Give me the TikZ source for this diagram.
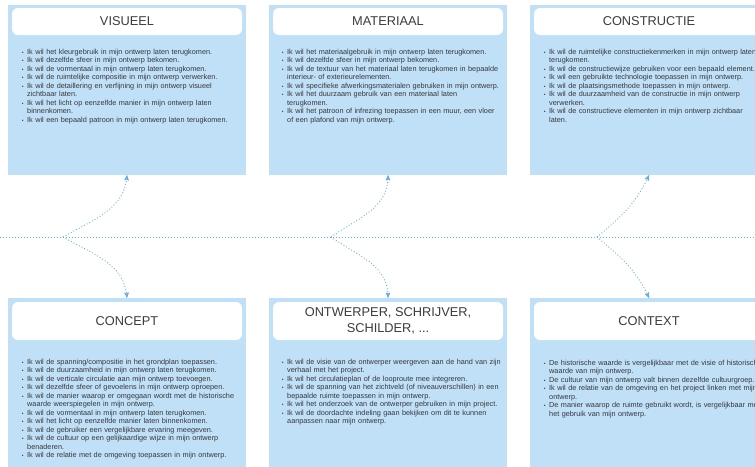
\documentclass[tikz,border=0pt]{standalone}
\usepackage{fontspec}
\setmainfont{Liberation Sans}
\usepackage{enumitem}
\usetikzlibrary{arrows, positioning}
\definecolor{panelblue}{RGB}{192,224,248}
\definecolor{linkblue}{RGB}{96,174,230}
\definecolor{textgray}{RGB}{55,55,55}
\definecolor{titlegray}{RGB}{60,60,60}
\newcommand{\bulletlist}[1]{\begin{itemize}[leftmargin=9pt, labelsep=3.5pt, nosep, label={\fontsize{5}{5}\selectfont\textbullet}]#1\end{itemize}}
\tikzset{
x=1pt, y=-1pt, % one unit is one pixel of the reference, y points down
>=stealth',
panel/.style={fill=panelblue, minimum width=238pt, inner sep=0pt}, % light blue column
titlebox/.style={fill=white, rounded corners=6pt, minimum width=230pt, inner sep=0pt, align=center, text=titlegray, font=\fontsize{12.8}{15.5}\selectfont},
itemtext/.style={anchor=north west, inner sep=0pt, text width=300pt, text=textgray, font=\fontsize{7.3}{8.5}\selectfont},
spine/.style={linkblue, line width=0.9pt, dash pattern=on 0.9pt off 2.1pt},
link/.style={->, spine},
}

\begin{document}
\begin{tikzpicture}
\useasboundingbox (0,0) rectangle (755,466);
\clip (0,0) rectangle (755,466);

% top row
\node[panel, minimum height=170pt] at (127, 90) (vis) {};
\node[panel, minimum height=170pt] at (388, 90) (mat) {};
\node[panel, minimum height=170pt] at (649, 90) (con) {};
\node[titlebox, minimum height=27pt] at (127, 21.5) (visT) {VISUEEL};
\node[titlebox, minimum height=27pt] at (388, 21.5) (matT) {MATERIAAL};
\node[titlebox, minimum height=27pt] at (649, 21.5) (conT) {CONSTRUCTIE};

\node[itemtext] at (18, 45.5) (visL) {\bulletlist{
\item Ik wil het kleurgebruik in mijn ontwerp laten terugkomen.
\item Ik wil dezelfde sfeer in mijn ontwerp bekomen.
\item Ik wil de vormentaal in mijn ontwerp laten terugkomen.
\item Ik wil de ruimtelijke compositie in mijn ontwerp verwerken.
\item Ik wil de detaillering en verfijning in mijn ontwerp visueel\newline zichtbaar laten.
\item Ik wil het licht op eenzelfde manier in mijn ontwerp laten\newline binnenkomen.
\item Ik wil een bepaald patroon in mijn ontwerp laten terugkomen.}};
\node[itemtext] at (278, 45.5) (matL) {\bulletlist{
\item Ik wil het materiaalgebruik in mijn ontwerp laten terugkomen.
\item Ik wil dezelfde sfeer in mijn ontwerp bekomen.
\item Ik wil de textuur van het materiaal laten terugkomen in bepaalde\newline interieur- of exterieurelementen.
\item Ik wil specifieke afwerkingsmaterialen gebruiken in mijn ontwerp.
\item Ik wil het duurzaam gebruik van een materiaal laten\newline terugkomen.
\item Ik wil het patroon of infrezing toepassen in een muur, een vloer\newline of een plafond van mijn ontwerp.}};
\node[itemtext] at (540, 45.5) (conL) {\bulletlist{
\item Ik wil de ruimtelijke constructiekenmerken in mijn ontwerp laten\newline terugkomen.
\item Ik wil de constructiewijze gebruiken voor een bepaald element.
\item Ik wil een gebruikte technologie toepassen in mijn ontwerp.
\item Ik wil de plaatsingsmethode toepassen in mijn ontwerp.
\item Ik wil de duurzaamheid van de constructie in mijn ontwerp\newline verwerken.
\item Ik wil de constructieve elementen in mijn ontwerp zichtbaar\newline laten.}};

% bottom row
\node[panel, minimum height=180pt] at (127, 388) (cpt) {};
\node[panel, minimum height=180pt] at (388, 388) (ont) {};
\node[panel, minimum height=180pt] at (649, 388) (ctx) {};
\node[titlebox, minimum height=38pt] at (127, 321) (cptT) {CONCEPT};
\node[titlebox, minimum height=38pt] at (388, 321) (ontT) {ONTWERPER, SCHRIJVER,\\SCHILDER, ...};
\node[titlebox, minimum height=38pt] at (649, 321) (ctxT) {CONTEXT};

\node[itemtext] at (18, 355.5) (cptL) {\bulletlist{
\item Ik wil de spanning/compositie in het grondplan toepassen.
\item Ik wil de duurzaamheid in mijn ontwerp laten terugkomen.
\item Ik wil de verticale circulatie aan mijn ontwerp toevoegen.
\item Ik wil dezelfde sfeer of gevoelens in mijn ontwerp oproepen.
\item Ik wil de manier waarop er omgegaan wordt met de historische\newline waarde weerspiegelen in mijn ontwerp.
\item Ik wil de vormentaal in mijn ontwerp laten terugkomen.
\item Ik wil het licht op eenzelfde manier laten binnenkomen.
\item Ik wil de gebruiker een vergelijkbare ervaring meegeven.
\item Ik wil de cultuur op een gelijkaardige wijze in mijn ontwerp\newline benaderen.
\item Ik wil de relatie met de omgeving toepassen in mijn ontwerp.}};
\node[itemtext] at (278, 355.5) (ontL) {\bulletlist{
\item Ik wil de visie van de ontwerper weergeven aan de hand van zijn\newline verhaal met het project.
\item Ik wil het circulatieplan of de looproute mee integreren.
\item Ik wil de spanning van het zichtveld (of niveauverschillen) in een\newline bepaalde ruimte toepassen in mijn ontwerp.
\item Ik wil het onderzoek van de ontwerper gebruiken in mijn project.
\item Ik wil de doordachte indeling gaan bekijken om dit te kunnen\newline aanpassen naar mijn ontwerp.}};
\node[itemtext] at (540, 356.5) (ctxL) {\bulletlist{
\item De historische waarde is vergelijkbaar met de visie of historische\newline waarde van mijn ontwerp.
\item De cultuur van mijn ontwerp valt binnen dezelfde cultuurgroep.
\item Ik wil de relatie van de omgeving en het project linken met mijn\newline ontwerp.
\item De manier waarop de ruimte gebruikt wordt, is vergelijkbaar met\newline het gebruik van mijn ontwerp.}};

% spine and branches
\coordinate (left) at (0, 237);
\coordinate (right) at (755, 237);
\coordinate (b1) at (63, 237);
\coordinate (b2) at (331, 237);
\coordinate (b3) at (597, 237);
\draw[spine] (left) -- (right);
\draw[link] (b1) to[out=30, in=-95] (vis.south);
\draw[link] (b1) to[out=-30, in=95] (cpt.north);
\draw[link] (b2) to[out=35, in=-90] (mat.south);
\draw[link] (b2) to[out=-35, in=90] (ont.north);
\draw[link] (b3) to[out=40, in=-115] (con.south);
\draw[link] (b3) to[out=-40, in=115] (ctx.north);

\end{tikzpicture}
\end{document}
